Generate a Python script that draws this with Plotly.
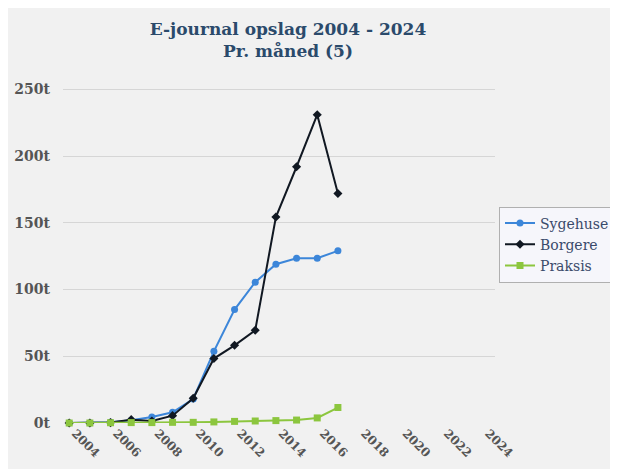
import plotly.graph_objects as go

years = list(range(2004, 2018))
sygehuse = [0, 0, 0.5, 2, 4.5, 8, 18, 53.7, 85, 105.5, 119, 123.5, 123.5, 129]
borgere = [0, 0, 0.3, 2.5, 1.5, 5.5, 18.5, 48.3, 58.2, 69.5, 154.3, 192, 231, 172]
praksis = [0, 0, 0.2, 0.3, 0.3, 0.5, 0.5, 0.8, 1.2, 1.5, 1.8, 2.2, 3.8, 11.6]

x_ticks = list(range(2004, 2026, 2))
y_ticks = [0, 50, 100, 150, 200, 250]

FONT = "DejaVu Serif"
# page body has an 8px margin; figure coordinates are offset by 8px
W, H = 618, 469
L, T = 55, 80
PR, PB = 487, 415  # plot right / bottom in figure px
R, B = W - PR, H - PB
pw, ph = PR - L, PB - T

fig = go.Figure()
fig.add_trace(go.Scatter(x=years, y=sygehuse, name="Sygehuse", mode="lines+markers",
                         line=dict(color="#3c86d9", width=2),
                         marker=dict(symbol="circle", size=7, color="#3c86d9"),
                         cliponaxis=False))
fig.add_trace(go.Scatter(x=years, y=borgere, name="Borgere", mode="lines+markers",
                         line=dict(color="#111822", width=2),
                         marker=dict(symbol="diamond", size=7, color="#111822"),
                         cliponaxis=False))
fig.add_trace(go.Scatter(x=years, y=praksis, name="Praksis", mode="lines+markers",
                         line=dict(color="#8cc63e", width=2),
                         marker=dict(symbol="square", size=7, color="#8cc63e"),
                         cliponaxis=False))

fig.update_layout(
    width=W, height=H,
    margin=dict(l=L, r=R, t=T, b=B, autoexpand=False),
    paper_bgcolor="#f1f1f1",
    plot_bgcolor="rgba(0,0,0,0)",
    font=dict(family=FONT, color="#555555"),
    title=dict(text="<b>E-journal opslag 2004 - 2024<br>Pr. måned (5)</b>",
               x=280 / W, xanchor="center", y=1 - 27 / H, yanchor="top",
               font=dict(family=FONT, size=17, color="#2b4a6b")),
    showlegend=True,
    legend=dict(x=(491 - L) / pw, y=(PB - 236.5) / ph, xanchor="left", yanchor="middle",
                bgcolor="#f6f6fb", bordercolor="#b0b0b0", borderwidth=1,
                font=dict(family=FONT, size=14, color="#3a4a6a"),
                tracegroupgap=0, itemwidth=30),
    xaxis=dict(range=[2003.7, 2024.6], tickvals=x_ticks,
               ticktext=[f"<b>{v}</b>" for v in x_ticks],
               tickangle=45, showgrid=False, zeroline=False, showline=False,
               tickfont=dict(family=FONT, size=12, color="#555555"),
               ticklabelshift=6, automargin=False),
    yaxis=dict(range=[0, 251], tickvals=y_ticks, ticktext=[f"<b>{v}t</b>" for v in y_ticks],
               showgrid=True, gridcolor="#d6d6d6", gridwidth=1, zeroline=False,
               tickfont=dict(family=FONT, size=14, color="#555555"),
               ticklabelstandoff=12, automargin=False),
)

fig.write_html("out.html")
